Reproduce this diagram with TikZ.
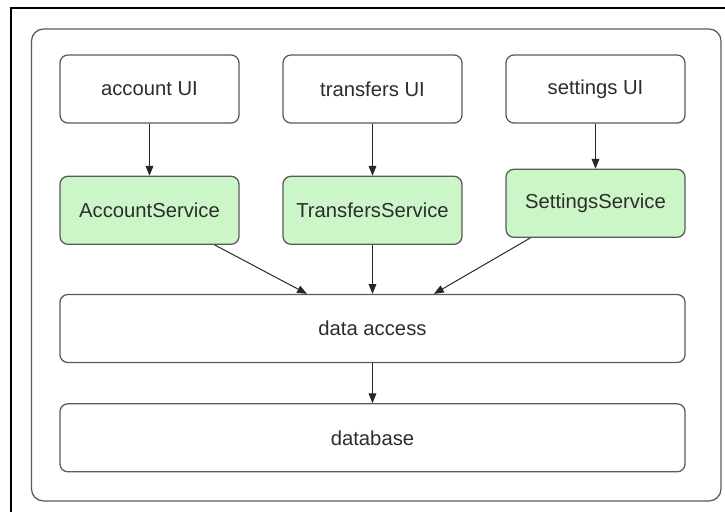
\documentclass[tikz,border=0pt]{standalone}
\usepackage{fontspec}
\setmainfont{Liberation Sans}
\usetikzlibrary{arrows.meta, positioning, calc}
\definecolor{boxline}{RGB}{90,90,90}
\definecolor{svcgreen}{RGB}{204,246,200}
\definecolor{txtgray}{RGB}{45,45,45}
\tikzset{
  layer/.style={
    draw=boxline,
    rectangle,
    rounded corners=0.2cm,
    line width=0.9pt,
    minimum height=1.7cm,
    minimum width=4.475cm,
    align=center,
    inner sep=0pt,
    text=txtgray,
    font=\fontsize{14.4}{17}\selectfont,
  },
  service/.style={
    layer,
    fill=svcgreen
  },
  widelayer/.style={
    layer,
    minimum width=15.625cm
  },
  arrow/.style={
    -{Triangle[length=7pt,width=5.5pt]},
    line width=0.7pt,
    black!85
  }
}
\begin{document}
\begin{tikzpicture}[x=0.025cm,y=-0.025cm]

% --- page and frames ---
\clip (0,0) rectangle (725,512);
\fill[white] (0,0) rectangle (725,512);
\draw[black, line width=1.8pt] (11,8) rectangle (760,540);
\draw[boxline, line width=0.9pt, rounded corners=0.3cm] (31.5,29) rectangle (721,501);

% --- UI row ---
\node[layer] (accUI) at (149.5,89) {account UI};
\node[layer] (trUI)  at (372.5,89) {transfers UI};
\node[layer] (setUI) at (595.5,89) {settings UI};

% --- services ---
\node[service, below=1.3cm of accUI]   (accSvc) {AccountService};
\node[service, below=1.3cm of trUI]    (trSvc)  {TransfersService};
\node[service, below=1.125cm of setUI] (setSvc) {SettingsService};

% --- data layers ---
\node[widelayer] (data) at (372.5,328.5) {data access};
\node[widelayer, below=1cm of data] (db) {database};

% --- arrows ---
\draw[arrow] (accUI) -- (accSvc);
\draw[arrow] (trUI) -- (trSvc);
\draw[arrow] (setUI) -- (setSvc);
\draw[arrow] (accSvc.-28) -- ($(data.north)+(-65.5,0)$);
\draw[arrow] (trSvc) -- (data);
\draw[arrow] (setSvc.-152) -- ($(data.north)+(61.5,0)$);
\draw[arrow] (data) -- (db);

\end{tikzpicture}
\end{document}
